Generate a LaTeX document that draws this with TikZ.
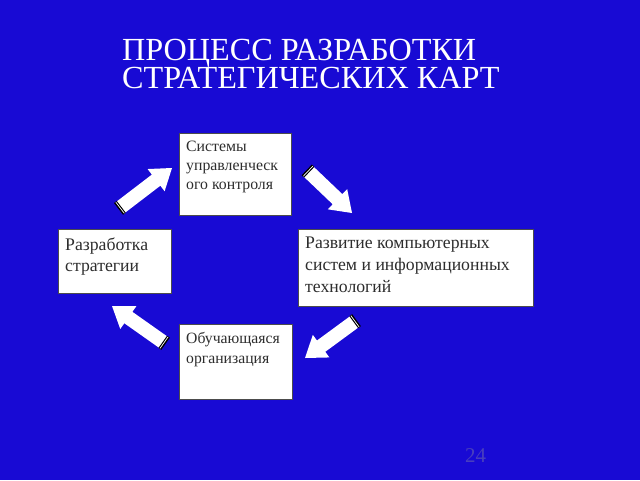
\documentclass[tikz,border=0pt]{standalone}
\usepackage{fontspec}
\setmainfont{Liberation Serif}
\usetikzlibrary{calc}
\definecolor{bg}{RGB}{24,10,212}
\definecolor{pagenum}{RGB}{72,62,190}
\definecolor{boxtext}{RGB}{45,45,45}
\tikzset{
  box/.style={draw=black!70, line width=0.7pt, fill=white, inner sep=0pt, anchor=north west},
  boxtxt/.style={text=boxtext, align=left, inner sep=0pt, anchor=north west},
  titletxt/.style={text=white, inner sep=0pt, anchor=base west, font=\fontsize{32.2}{32.2}\selectfont},
}
% block arrow from tail #1 to tip #2
\newcommand\blockarrow[2]{%
  \fill[white]
    ($(#1)!7pt!90:(#2)$) --
    ($($(#2)!20pt!(#1)$)!7pt!90:(#2)$) --
    ($($(#2)!20pt!(#1)$)!14pt!90:(#2)$) --
    (#2) --
    ($($(#2)!20pt!(#1)$)!14pt!-90:(#2)$) --
    ($($(#2)!20pt!(#1)$)!7pt!-90:(#2)$) --
    ($(#1)!7pt!-90:(#2)$) -- cycle;
  \draw[black, line width=3.4pt]
    ($($(#1)!-1.4pt!(#2)$)!7.4pt!90:(#2)$) -- ($($(#1)!-1.4pt!(#2)$)!7.4pt!-90:(#2)$);
  \draw[white, line width=0.7pt]
    ($($(#1)!-1.2pt!(#2)$)!7pt!90:(#2)$) -- ($($(#1)!-1.2pt!(#2)$)!7pt!-90:(#2)$);
}
\begin{document}
\begin{tikzpicture}[x=1pt,y=-1pt]
  \fill[bg] (0,0) rectangle (640,480);
  \useasboundingbox (0,0) rectangle (640,480);

  % title
  \node[titletxt] (title1) at (122,60.5) {ПРОЦЕСС РАЗРАБОТКИ};
  \node[titletxt] (title2) at (122,88) {СТРАТЕГИЧЕСКИХ КАРТ};

  % boxes
  \node[box, minimum width=112pt, minimum height=82pt] (sys) at (179,133) {};
  \node[box, minimum width=113pt, minimum height=64pt] (strat) at (58,229) {};
  \node[box, minimum width=235pt, minimum height=77pt] (it) at (298,229) {};
  \node[box, minimum width=113pt, minimum height=75pt] (learn) at (179,324) {};

  % box texts
  \node[boxtxt, font=\fontsize{15.8}{19}\selectfont] (systxt) at (186,141.2) {Системы\\управленческ\\ого контроля};
  \node[boxtxt, font=\fontsize{17.7}{21.5}\selectfont] (strattxt) at (65,237.6) {Разработка\\стратегии};
  \node[boxtxt, font=\fontsize{17.7}{22}\selectfont] (ittxt) at (305,237.2) {Развитие компьютерных\\систем и информационных\\технологий};
  \node[boxtxt, font=\fontsize{15.7}{20}\selectfont] (learntxt) at (186,332.3) {Обучающаяся\\организация};

  % arrows
  \coordinate (t1) at (121,207); \coordinate (h1) at (172,168);
  \coordinate (t2) at (309,172); \coordinate (h2) at (352,213);
  \coordinate (t3) at (354,322); \coordinate (h3) at (305,358);
  \coordinate (t4) at (163,342); \coordinate (h4) at (112,306);
  \blockarrow{t1}{h1}
  \blockarrow{t2}{h2}
  \blockarrow{t3}{h3}
  \blockarrow{t4}{h4}

  % page number
  \node[text=pagenum, inner sep=0pt, anchor=base west, font=\fontsize{21}{21}\selectfont] (pnum) at (465,462) {24};
\end{tikzpicture}
\end{document}
